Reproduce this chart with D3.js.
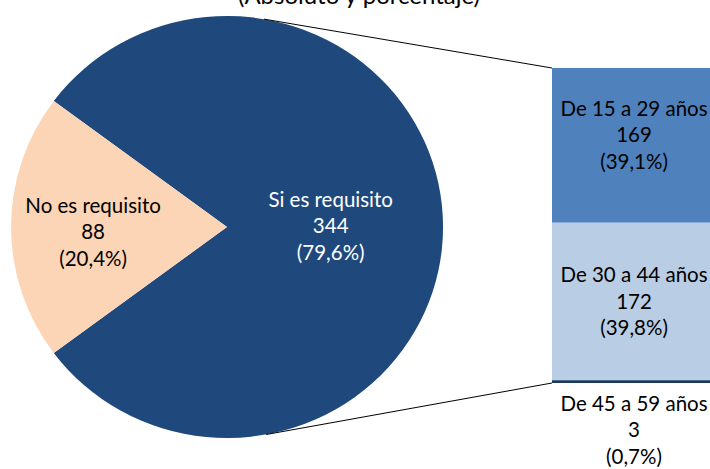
<!DOCTYPE html>
<html>
<head>
<meta charset="utf-8">
<script src="https://cdn.jsdelivr.net/npm/d3@7"></script>
<style>
  body { margin: 0; background: #fff; }
  text { font-family: Lato, "Open Sans", sans-serif; }
</style>
</head>
<body>
<svg id="chart"></svg>
<script>
// data
const title = "(Absoluto y porcentaje)";
const pieLabels = ["Si es requisito", "No es requisito"];
const pieValues = [344, 88];
const barLabels = ["De 15 a 29 años", "De 30 a 44 años", "De 45 a 59 años"];
const barValues = [169, 172, 3];

const width = 710, height = 469;
const svg = d3.select("#chart").attr("width", width).attr("height", height);

const total = d3.sum(pieValues);
const fmt = v => "(" + (v / total * 100).toFixed(1).replace(".", ",") + "%)";

const pieColors = ["#1F497D", "#FBD5B5"];
const barColors = ["#4F81BD", "#B9CDE5", "#17375E"];
const fontSize = 20.5;
const lineH = 26.5;

// pie geometry (slightly squashed like the original)
const cx = 227, cy = 227, rx = 216, ry = 211;

// title (cut off at the top in the original)
svg.append("text")
  .attr("x", 359).attr("y", 4)
  .attr("text-anchor", "middle")
  .attr("font-size", 24)
  .attr("fill", "#000")
  .text(title);

// small slice centred on the left
const smallShare = pieValues[1] / total;
const pie = d3.pie().sort(null)
  .startAngle(-Math.PI / 2 + smallShare * Math.PI)
  .endAngle(-Math.PI / 2 + smallShare * Math.PI + 2 * Math.PI);
const arcs = pie(pieValues);
const arc = d3.arc().innerRadius(0).outerRadius(1);

const pieG = svg.append("g")
  .attr("transform", `translate(${cx},${cy}) scale(${rx},${ry})`);
pieG.selectAll("path")
  .data(arcs).enter()
  .append("path")
    .attr("d", arc)
    .attr("fill", (d, i) => pieColors[i]);

// pie labels
const labelRadius = [0.48, 0.62];
const labelDy = [-1, 5];
const pieText = svg.selectAll(".pie-label")
  .data(arcs).enter()
  .append("text")
    .attr("class", "pie-label")
    .attr("text-anchor", "middle")
    .attr("font-size", fontSize)
    .attr("fill", (d, i) => i === 0 ? "#fff" : "#000")
    .attr("transform", (d, i) => {
      const a = (d.startAngle + d.endAngle) / 2;
      const x = cx + Math.sin(a) * rx * labelRadius[i];
      const y = cy - Math.cos(a) * ry * labelRadius[i] + labelDy[i];
      return `translate(${x},${y})`;
    });
pieText.each(function(d, i) {
  const lines = [pieLabels[i], String(pieValues[i]), fmt(pieValues[i])];
  d3.select(this).selectAll("tspan")
    .data(lines).enter()
    .append("tspan")
      .attr("x", 0)
      .attr("y", (t, j) => (j - 1) * lineH + 7)
      .text(t => t);
});

// stacked bar
const barX0 = 552, barX1 = 712;
const barTop = 68, barBottom = 383;
const y = d3.scaleLinear().domain([0, d3.sum(barValues)]).range([barTop, barBottom]);
const cum = d3.cumsum(barValues);
const segs = barValues.map((v, i) => ({ label: barLabels[i], value: v, y0: cum[i] - v, y1: cum[i] }));

svg.selectAll(".seg")
  .data(segs).enter()
  .append("rect")
    .attr("class", "seg")
    .attr("x", barX0)
    .attr("width", barX1 - barX0)
    .attr("y", d => y(d.y0))
    .attr("height", d => y(d.y1) - y(d.y0))
    .attr("fill", (d, i) => barColors[i]);

// connector lines: tangents from bar corners to the pie
function tangentPoint(px, py, upper) {
  const nx = (px - cx) / rx, ny = (py - cy) / ry;
  const d = Math.hypot(nx, ny);
  const phi = Math.atan2(ny, nx);
  const t = phi + (upper ? -1 : 1) * Math.acos(1 / d);
  return [cx + Math.cos(t) * rx, cy + Math.sin(t) * ry];
}
const topPt = tangentPoint(barX0, barTop, true);
const botPt = tangentPoint(barX0, barBottom, false);
const line = d3.line();
svg.append("path")
  .attr("d", line([topPt, [barX0, barTop]]))
  .attr("stroke", "#000").attr("stroke-width", 1).attr("fill", "none");
svg.append("path")
  .attr("d", line([botPt, [barX0, barBottom]]))
  .attr("stroke", "#000").attr("stroke-width", 1).attr("fill", "none");

// bar labels
const barMidX = 634;
const barLabelY = [
  (y(segs[0].y0) + y(segs[0].y1)) / 2 - 3,
  (y(segs[1].y0) + y(segs[1].y1)) / 2 + 7,
  barBottom + 54
];
const barText = svg.selectAll(".bar-label")
  .data(segs).enter()
  .append("text")
    .attr("class", "bar-label")
    .attr("text-anchor", "middle")
    .attr("font-size", fontSize)
    .attr("fill", "#000")
    .attr("transform", (d, i) => `translate(${barMidX},${barLabelY[i]})`);
barText.each(function(d) {
  const lines = [d.label, String(d.value), fmt(d.value)];
  d3.select(this).selectAll("tspan")
    .data(lines).enter()
    .append("tspan")
      .attr("x", 0)
      .attr("y", (t, j) => (j - 1) * lineH)
      .text(t => t);
});
</script>
</body>
</html>
